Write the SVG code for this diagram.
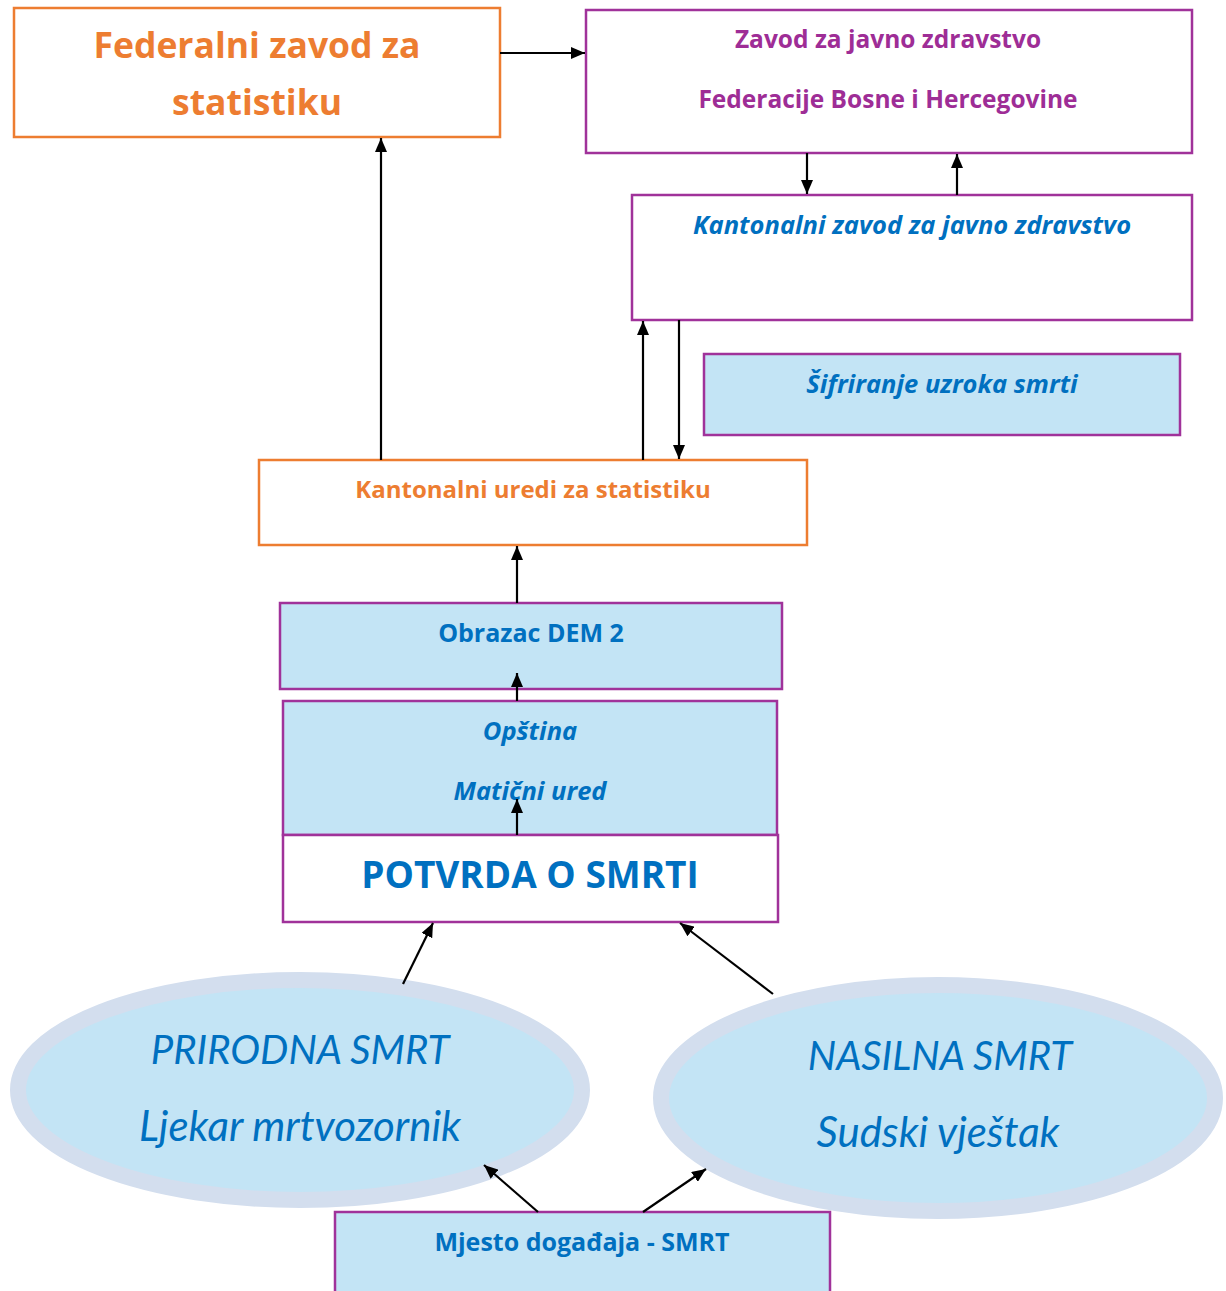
<svg xmlns="http://www.w3.org/2000/svg" width="1226" height="1291" viewBox="0 0 1226 1291">
<style>
text{font-family:"Open Sans",Lato,"Liberation Sans",sans-serif;text-anchor:middle}
.or{fill:#fff;stroke:#ED7D31;stroke-width:2.5}
.pu{fill:#fff;stroke:#A0329A;stroke-width:2.5}
.pb{fill:#C3E4F5;stroke:#A0329A;stroke-width:2.5}
.el{fill:#C3E4F5;stroke:#D3DEEE;stroke-width:16}
.to{fill:#ED7D31;font-weight:bold}
.tp{fill:#9E2D96;font-weight:bold;font-size:24.5px}
.tb{fill:#0070C0;font-weight:bold;font-size:25px}
.ti{fill:#0070C0;font-style:italic;font-weight:bold;font-size:25.5px}
.te{fill:#0070C0;font-style:italic;font-size:40px;font-family:Lato,"Open Sans",sans-serif}
.c{stroke:#000;stroke-width:2.2;fill:none;marker-end:url(#ah)}
</style>
<defs>
<marker id="ah" markerUnits="userSpaceOnUse" markerWidth="14" markerHeight="12" viewBox="0 0 14 12" refX="14" refY="6" orient="auto">
<path d="M0,0 L14,6 L0,12 z" fill="#000"/>
</marker>
</defs>
<g id="federalni">
<rect class="or" x="14" y="8" width="486" height="129"/>
<text class="to" x="257" y="58" style="font-size:35.5px">Federalni zavod za</text>
<text class="to" x="257" y="115" style="font-size:35.5px">statistiku</text>
</g>
<g id="zavod">
<rect class="pu" x="586" y="10" width="606" height="143"/>
<text class="tp" x="888" y="48">Zavod za javno zdravstvo</text>
<text class="tp" x="888" y="108">Federacije Bosne i Hercegovine</text>
</g>
<g id="kantonalni-zavod">
<rect class="pu" x="632" y="195" width="560" height="125"/>
<text class="ti" x="912" y="234">Kantonalni zavod za javno zdravstvo</text>
</g>
<g id="sifriranje">
<rect class="pb" x="704" y="354" width="476" height="81"/>
<text class="ti" x="942" y="393">Šifriranje uzroka smrti</text>
</g>
<g id="kantonalni-uredi">
<rect class="or" x="259" y="460" width="548" height="85"/>
<text class="to" x="533" y="498" style="font-size:24px">Kantonalni uredi za statistiku</text>
</g>
<g id="obrazac">
<rect class="pb" x="280" y="603" width="502" height="86"/>
<text class="tb" x="531" y="642">Obrazac DEM 2</text>
</g>
<g id="opstina">
<rect class="pb" x="283" y="701" width="494" height="134"/>
<text class="ti" x="530" y="740">Opština</text>
<text class="ti" x="530" y="800">Matični ured</text>
</g>
<g id="potvrda">
<rect class="pu" x="283" y="835" width="495" height="87"/>
<text class="tb" x="530" y="888" style="font-size:37px">POTVRDA O SMRTI</text>
</g>
<g id="prirodna">
<ellipse class="el" cx="300" cy="1090" rx="282" ry="110"/>
<text class="te" x="300" y="1064">PRIRODNA SMRT</text>
<text class="te" x="300" y="1141" style="font-size:42px">Ljekar mrtvozornik</text>
</g>
<g id="nasilna">
<ellipse class="el" cx="938" cy="1098" rx="277" ry="113"/>
<text class="te" x="940" y="1070">NASILNA SMRT</text>
<text class="te" x="938" y="1147" style="font-size:42px">Sudski vještak</text>
</g>
<g id="mjesto">
<rect class="pb" x="335" y="1212" width="495" height="90"/>
<text class="tb" x="582" y="1251">Mjesto događaja - SMRT</text>
</g>
<g id="connectors">
<line class="c" x1="500" y1="53" x2="585" y2="53"/>
<line class="c" x1="381" y1="460" x2="381" y2="138"/>
<line class="c" x1="807" y1="153" x2="807" y2="194"/>
<line class="c" x1="957" y1="195" x2="957" y2="154"/>
<line class="c" x1="643" y1="460" x2="643" y2="321"/>
<line class="c" x1="679" y1="320" x2="679" y2="459"/>
<line class="c" x1="517" y1="603" x2="517" y2="546"/>
<line class="c" x1="517" y1="701" x2="517" y2="673"/>
<line class="c" x1="517" y1="835" x2="517" y2="799"/>
<line class="c" x1="403" y1="984" x2="433" y2="923"/>
<line class="c" x1="773" y1="994" x2="680" y2="923"/>
<line class="c" x1="538" y1="1212" x2="484" y2="1165"/>
<line class="c" x1="643" y1="1212" x2="706" y2="1169"/>
</g>
</svg>
